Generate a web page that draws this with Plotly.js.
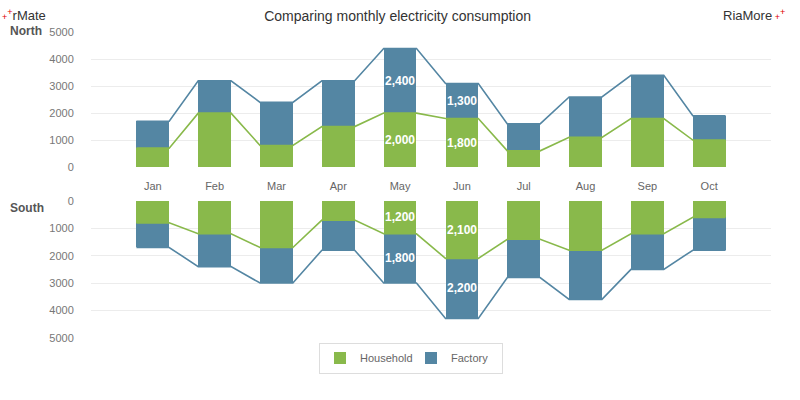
<!DOCTYPE html>
<html>
<head>
<meta charset="utf-8">
<script src="https://cdn.plot.ly/plotly-3.0.1.min.js"></script>
<style>html,body{margin:0;padding:0;background:#fff;}#chart{width:800px;height:400px;}</style>
</head>
<body>
<div id="chart"></div>
<script>
const months = ['Jan','Feb','Mar','Apr','May','Jun','Jul','Aug','Sep','Oct'];
const northHousehold = [700,2000,800,1500,2000,1800,600,1100,1800,1000];
const northFactory   = [1000,1200,1600,1700,2400,1300,1000,1500,1600,900];
const southHousehold = [800,1200,1700,700,1200,2100,1400,1800,1200,600];
const southFactory   = [900,1200,1300,1100,1800,2200,1400,1800,1300,1200];
const labelledMonths = ['May','Jun'];
const yTicks = [0,1000,2000,3000,4000,5000];

const GREEN = '#89b94b';
const BLUE = '#5486a3';
const BW = 0.53;
const xs = months.map((m,i)=>i);
const fmt = v => v.toLocaleString('en-US');
const sum = (a,b) => a.map((v,i)=>v+b[i]);
function edgeLine(vals){
  const x=[], y=[];
  vals.forEach((v,i)=>{ x.push(i-BW/2, i+BW/2); y.push(v, v); });
  return {x, y};
}
const font = 'Liberation Sans, Arial, sans-serif';

function bar(vals, color, name, xa, ya, show){
  return {type:'bar', x:xs, y:vals, width:BW, name, xaxis:xa, yaxis:ya,
    marker:{color, line:{width:0}}, showlegend:show, legendgroup:name, hoverinfo:'y'};
}
function line(vals, color, xa, ya){
  const e = edgeLine(vals);
  return {type:'scatter', mode:'lines', x:e.x, y:e.y, xaxis:xa, yaxis:ya,
    line:{color, width:1.6}, showlegend:false, hoverinfo:'skip'};
}
function valueLabels(h, f, xa, ya){
  const out = [];
  months.forEach((m,i)=>{
    if(!labelledMonths.includes(m)) return;
    [[h[i], h[i]/2],[f[i], h[i]+f[i]/2]].forEach(([v,y])=>{
      out.push({text:'<b>'+fmt(v)+'</b>', x:i, y, xref:xa, yref:ya, showarrow:false,
        xanchor:'center', yanchor:'middle', font:{family:font, size:12, color:'#fff'}});
    });
  });
  return out;
}

const data = [
  bar(northHousehold, GREEN, 'Household', 'x', 'y', true),
  bar(northFactory, BLUE, 'Factory', 'x', 'y', true),
  line(northHousehold, GREEN, 'x', 'y'),
  line(sum(northHousehold, northFactory), BLUE, 'x', 'y'),
  bar(southHousehold, GREEN, 'Household', 'x2', 'y2', false),
  bar(southFactory, BLUE, 'Factory', 'x2', 'y2', false),
  line(southHousehold, GREEN, 'x2', 'y2'),
  line(sum(southHousehold, southFactory), BLUE, 'x2', 'y2'),
];

const gridC = '#ececec';
const yBase = {
  range:[0,5000], tickvals:yTicks, ticktext:yTicks.map(String),
  showgrid:true, gridcolor:gridC, gridwidth:1, zeroline:false,
  ticks:'outside', ticklen:14, tickcolor:'rgba(0,0,0,0)',
  tickfont:{family:font, size:11, color:'#777'}, fixedrange:true, showline:false
};
const layout = {
  width:800, height:400,
  margin:{l:91, r:29, t:0, b:0},
  paper_bgcolor:'#fff', plot_bgcolor:'#fff',
  barmode:'stack', bargap:0,
  title:{text:'Comparing monthly electricity consumption', font:{family:font, size:14, color:'#333'},
    x:0.497, xref:'container', xanchor:'center', y:0.96, yref:'container', yanchor:'middle'},
  xaxis:{domain:[0,1], range:[-1,10], tickvals:xs, ticktext:months, anchor:'y',
    showgrid:false, zeroline:false, showline:false, ticks:'outside', ticklen:9, tickcolor:'rgba(0,0,0,0)',
    tickfont:{family:font, size:11, color:'#666'}, fixedrange:true},
  xaxis2:{domain:[0,1], range:[-1,10], anchor:'y2', showticklabels:false, showgrid:false,
    zeroline:false, showline:false, fixedrange:true},
  yaxis: Object.assign({}, yBase, {domain:[1-167/400, 1-32.3/400]}),
  yaxis2: Object.assign({}, yBase, {domain:[1-337.7/400, 1-201/400], range:[5000,0]}),
  legend:{orientation:'h', x:(411-91)/680, xanchor:'center', y:0.105, yanchor:'middle',
    bordercolor:'#dddddd', borderwidth:1, bgcolor:'#fff',
    font:{family:font, size:11, color:'#666'}, traceorder:'normal', itemwidth:30,
    entrywidth:46, entrywidthmode:'pixels'},
  annotations:[
    {text:'<span style="color:#e00000;font-size:9px">+</span><sup style="color:#e00000;font-size:9px">+</sup>rMate', xref:'paper', yref:'paper',
     x:-91/680, y:1-15/400, xanchor:'left', yanchor:'middle', showarrow:false, font:{family:font, size:13, color:'#333'}},
    {text:'RiaMore<span style="color:#e00000;font-size:9px"> +</span><sup style="color:#e00000;font-size:9px">+</sup>', xref:'paper', yref:'paper',
     x:(787-91)/680, y:1-15/400, xanchor:'right', yanchor:'middle', showarrow:false, font:{family:font, size:13, color:'#333'}},
    {text:'<b>North</b>', xref:'paper', yref:'paper', x:-83/680, y:1-31/400, xanchor:'left', yanchor:'middle',
     showarrow:false, font:{family:font, size:12, color:'#555'}},
    {text:'<b>South</b>', xref:'paper', yref:'paper', x:-83/680, y:1-208/400, xanchor:'left', yanchor:'middle',
     showarrow:false, font:{family:font, size:12, color:'#555'}}
  ].concat(valueLabels(northHousehold, northFactory, 'x', 'y'))
   .concat(valueLabels(southHousehold, southFactory, 'x2', 'y2'))
};
Plotly.newPlot('chart', data, layout, {displayModeBar:false, staticPlot:true});
</script>
</body>
</html>
